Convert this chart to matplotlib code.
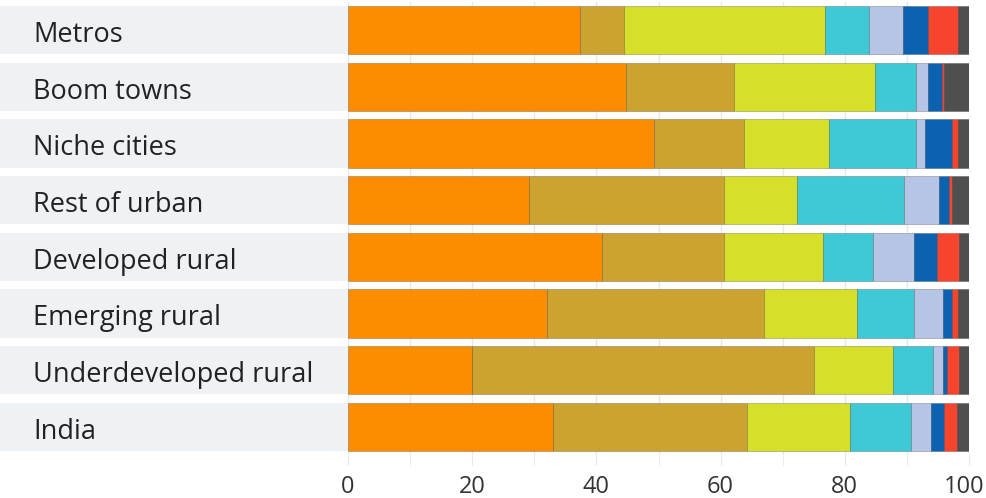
import matplotlib
matplotlib.use("Agg")
import matplotlib.pyplot as plt
import matplotlib.transforms as mtransforms
from matplotlib.patches import Rectangle
import numpy as np

categories = ["Metros", "Boom towns", "Niche cities", "Rest of urban",
              "Developed rural", "Emerging rural", "Underdeveloped rural", "India"]

s1 = [37.4, 44.8, 49.2, 29.1, 40.9, 32.1, 19.9, 33.0]
s2 = [7.1, 17.4, 14.5, 31.5, 19.7, 34.9, 55.2, 31.2]
s3 = [32.3, 22.7, 13.8, 11.7, 15.9, 15.0, 12.7, 16.6]
s4 = [7.1, 6.5, 13.9, 17.3, 8.1, 9.2, 6.4, 9.8]
s5 = [5.5, 2.0, 1.5, 5.6, 6.6, 4.6, 1.6, 3.3]
s6 = [4.0, 2.3, 4.4, 1.5, 3.7, 1.5, 0.6, 2.1]
s7 = [4.9, 0.3, 0.9, 0.6, 3.5, 0.9, 2.0, 2.0]
s8 = [1.7, 4.0, 1.8, 2.7, 1.6, 1.8, 1.6, 2.0]

series = [s1, s2, s3, s4, s5, s6, s7, s8]
colors = ["#fd8c00", "#cca330", "#d6df2a", "#3fc9d7", "#b6c5e6",
          "#0b62b1", "#f6442f", "#4f4f4f"]
xticks = [0, 20, 40, 60, 80, 100]

plt.rcParams['font.family'] = ['Open Sans', 'DejaVu Sans']

W, H = 986, 498
fig = plt.figure(figsize=(W / 100, H / 100), dpi=100)
left = 348 / W
right = 969 / W
top = 1 - 1.6 / H
bottom = 1 - 455.4 / H
ax = fig.add_axes([left, bottom, right - left, top - bottom])

y = np.arange(len(categories))
h = 0.85
lefts = np.zeros(len(categories))
for vals, c in zip(series, colors):
    vals = np.array(vals)
    ax.barh(y, vals, left=lefts, height=h, color=c, edgecolor=(0, 0, 0, 0.25),
            linewidth=0.6, zorder=3)
    lefts += vals

ax.set_xlim(0, 100)
ax.set_ylim(len(categories) - 0.5, -0.5)
ax.set_yticks([])
ax.set_xticks(xticks)
ax.set_xticks(np.arange(0, 101, 10), minor=True)
ax.grid(True, axis='x', which='both', color='#e3e8ee', linewidth=1, zorder=0)
ax.tick_params(axis='x', which='both', length=7, color='#e3e8ee', labelsize=17,
               labelcolor='#333333', pad=7)
for sp in ax.spines.values():
    sp.set_visible(False)

# keep the last tick label inside the canvas
fig.canvas.draw()
last = ax.get_xticklabels()[-1]
last.set_transform(last.get_transform() + mtransforms.ScaledTranslation(-5 / 100, 0, fig.dpi_scale_trans))

trans = mtransforms.blended_transform_factory(fig.transFigure, ax.transData)
for i, cat in enumerate(categories):
    ax.add_patch(Rectangle((0, i - h / 2), left, h, transform=trans,
                           facecolor='#eff2f5', edgecolor='none', clip_on=False, zorder=1))
    ax.text(33 / W, i + 0.21, cat, transform=trans, ha='left', va='baseline',
            fontsize=19.5, color='#222222', clip_on=False, zorder=4)

fig.savefig("out.png", dpi=100)
